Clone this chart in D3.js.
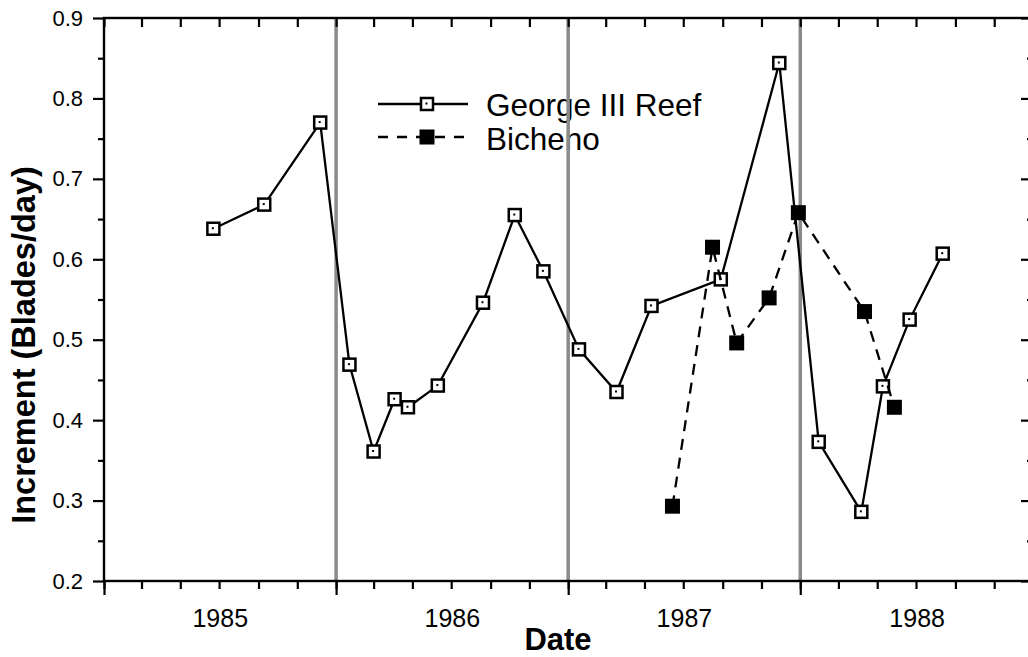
<!DOCTYPE html>
<html>
<head>
<meta charset="utf-8">
<script src="https://cdn.jsdelivr.net/npm/d3@7"></script>
<style>
  body { margin: 0; background: #fff; }
  svg { display: block; }
  text { font-family: "Liberation Sans", Arial, Helvetica, sans-serif; fill: #000; }
</style>
</head>
<body>
<svg id="chart" width="1028" height="657"></svg>
<script>
// Sampling dates and growth increments for each site
const georgeDates = [
  "1985-06-22", "1985-09-10", "1985-12-07",
  "1986-01-22", "1986-03-01", "1986-04-03", "1986-04-24", "1986-06-10",
  "1986-08-20", "1986-10-09", "1986-11-23",
  "1987-01-18", "1987-03-18", "1987-05-12", "1987-08-29", "1987-11-29",
  "1988-01-30", "1988-04-06", "1988-05-10", "1988-06-21", "1988-08-12"
];
const georgeValues = [
  0.638, 0.668, 0.770,
  0.469, 0.361, 0.426, 0.416, 0.443,
  0.546, 0.655, 0.585,
  0.488, 0.435, 0.542, 0.575, 0.844,
  0.373, 0.286, 0.442, 0.525, 0.607
];
const bichenoDates = [
  "1987-06-14", "1987-08-16", "1987-09-23", "1987-11-13", "1987-12-29",
  "1988-04-11", "1988-05-28"
];
const bichenoValues = [0.293, 0.615, 0.496, 0.552, 0.658, 0.535, 0.416];

const seriesNames = ["George III Reef", "Bicheno"];
const yearLabels = ["1985", "1986", "1987", "1988"];
const yMajorTicks = [0.2, 0.3, 0.4, 0.5, 0.6, 0.7, 0.8, 0.9];
const yMinorTicks = [0.25, 0.35, 0.45, 0.55, 0.65, 0.75, 0.85];

const parse = d3.utcParse("%Y-%m-%d");
const svg = d3.select("#chart");

const plotLeft = 104, plotRight = 1033, plotTop = 18, plotBottom = 581;

const x = d3.scaleUtc()
  .domain([new Date(Date.UTC(1985, 0, 1)), new Date(Date.UTC(1989, 0, 1))])
  .range([plotLeft, plotRight]);
const y = d3.scaleLinear().domain([0.2, 0.9]).range([plotBottom, plotTop]);

const domainEndPlus = d3.utcDay.offset(x.domain()[1], 1);
const yearStarts = d3.utcYear.range(x.domain()[0], domainEndPlus);
const twoMonthTicks = d3.utcMonth.every(2).range(x.domain()[0], domainEndPlus);
const midYears = yearLabels.map(s => new Date(Date.UTC(+s, 6, 2)));

const tickStyle = g => {
  g.select(".domain").remove();
  g.selectAll(".tick line").attr("stroke", "#000").attr("stroke-width", 2.2);
};

// Legend labels (the year-boundary lines run across them)
const legend = svg.append("g").attr("class", "legend");
legend.append("text").attr("x", 486).attr("y", 116).attr("font-size", 31.5).text(seriesNames[0]);
legend.append("text").attr("x", 486).attr("y", 150).attr("font-size", 31.5).text(seriesNames[1]);

// Year boundary lines
svg.append("g").selectAll("line")
  .data(yearStarts.filter(d => +d > +x.domain()[0] && +d < +x.domain()[1]))
  .join("line")
  .attr("x1", d => x(d)).attr("x2", d => x(d))
  .attr("y1", plotTop).attr("y2", plotBottom)
  .attr("stroke", "#8a8a8a").attr("stroke-width", 3.5);

// Frame
svg.append("rect")
  .attr("x", plotLeft).attr("y", plotTop)
  .attr("width", plotRight - plotLeft).attr("height", plotBottom - plotTop)
  .attr("fill", "none").attr("stroke", "#000").attr("stroke-width", 2.4);

// Bottom axis: 2-month ticks, longer year ticks, labels at mid-year
svg.append("g").attr("transform", `translate(0,${plotBottom})`)
  .call(d3.axisBottom(x).tickValues(twoMonthTicks).tickSize(8).tickFormat(""))
  .call(tickStyle);
svg.append("g").attr("transform", `translate(0,${plotBottom})`)
  .call(d3.axisBottom(x).tickValues(yearStarts).tickSize(14).tickFormat(""))
  .call(tickStyle);
svg.append("g").attr("transform", `translate(0,${plotBottom})`)
  .call(d3.axisBottom(x).tickValues(midYears).tickSize(0).tickPadding(28)
        .tickFormat((d, i) => yearLabels[i]))
  .call(g => g.select(".domain").remove())
  .call(g => g.selectAll("text").attr("font-size", 25).attr("fill", "#000"));

// Top axis: inward ticks
svg.append("g").attr("transform", `translate(0,${plotTop})`)
  .call(d3.axisTop(x).tickValues(twoMonthTicks).tickSize(-9).tickFormat(""))
  .call(tickStyle);

// Left axis
svg.append("g").attr("transform", `translate(${plotLeft},0)`)
  .call(d3.axisLeft(y).tickValues(yMinorTicks).tickSize(6).tickFormat(""))
  .call(tickStyle);
svg.append("g").attr("transform", `translate(${plotLeft},0)`)
  .call(d3.axisLeft(y).tickValues(yMajorTicks).tickSize(11).tickPadding(10).tickFormat(d3.format(".1f")))
  .call(tickStyle)
  .call(g => g.selectAll("text").attr("font-size", 22).attr("fill", "#000"));

// Right axis: inward ticks
svg.append("g").attr("transform", `translate(${plotRight},0)`)
  .call(d3.axisRight(y).tickValues(yMinorTicks).tickSize(-6).tickFormat(""))
  .call(tickStyle);
svg.append("g").attr("transform", `translate(${plotRight},0)`)
  .call(d3.axisRight(y).tickValues(yMajorTicks).tickSize(-12).tickFormat(""))
  .call(tickStyle);

// Axis titles
svg.append("text")
  .attr("transform", "translate(35,345) rotate(-90)")
  .attr("text-anchor", "middle").attr("font-size", 32.5).attr("font-weight", "bold")
  .text("Increment (Blades/day)");
svg.append("text")
  .attr("x", 558).attr("y", 650)
  .attr("text-anchor", "middle").attr("font-size", 31).attr("font-weight", "bold")
  .text("Date");

// Series
const george = georgeDates.map((d, i) => ({ date: parse(d), value: georgeValues[i] }));
const bicheno = bichenoDates.map((d, i) => ({ date: parse(d), value: bichenoValues[i] }));

const line = d3.line().x(d => x(d.date)).y(d => y(d.value));

svg.append("path").datum(george)
  .attr("d", line).attr("fill", "none")
  .attr("stroke", "#000").attr("stroke-width", 2.3);

const openSide = 12;
function openMarker(g, cx, cy) {
  g.append("rect")
    .attr("x", cx - openSide / 2).attr("y", cy - openSide / 2)
    .attr("width", openSide).attr("height", openSide)
    .attr("fill", "#fff").attr("stroke", "#000").attr("stroke-width", 2.5);
  g.append("rect")
    .attr("x", cx - 1.5).attr("y", cy - 1.5)
    .attr("width", 2).attr("height", 2).attr("fill", "#000");
}
const gm = svg.append("g");
george.forEach(d => openMarker(gm, x(d.date), y(d.value)));

svg.append("path").datum(bicheno)
  .attr("d", line).attr("fill", "none")
  .attr("stroke", "#000").attr("stroke-width", 2.3)
  .attr("stroke-dasharray", "11,8");

const filledSide = 15;
svg.append("g").selectAll("rect").data(bicheno).join("rect")
  .attr("x", d => x(d.date) - filledSide / 2).attr("y", d => y(d.value) - filledSide / 2)
  .attr("width", filledSide).attr("height", filledSide).attr("fill", "#000");

// Legend symbols
const lg = svg.append("g");
lg.append("line").attr("x1", 378).attr("x2", 468).attr("y1", 104).attr("y2", 104)
  .attr("stroke", "#000").attr("stroke-width", 2.3);
openMarker(lg, 427, 104);
lg.append("line").attr("x1", 378).attr("x2", 468).attr("y1", 137).attr("y2", 137)
  .attr("stroke", "#000").attr("stroke-width", 2.3).attr("stroke-dasharray", "10,9");
lg.append("rect").attr("x", 427 - filledSide / 2).attr("y", 137 - filledSide / 2)
  .attr("width", filledSide).attr("height", filledSide).attr("fill", "#000");
</script>
</body>
</html>
